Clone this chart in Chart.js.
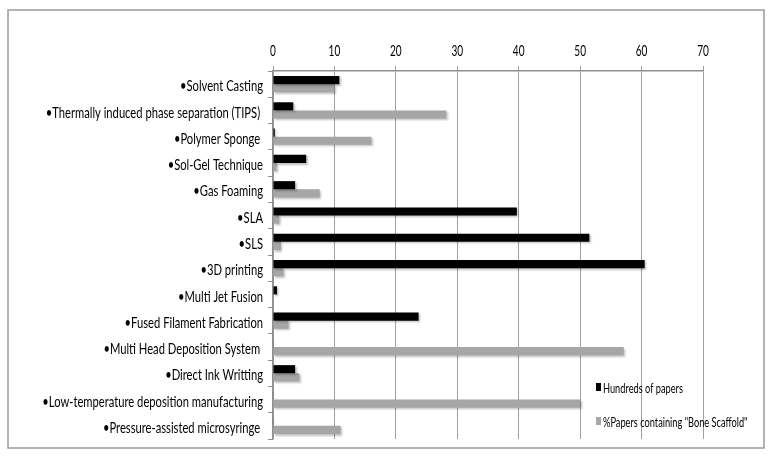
<!DOCTYPE html>
<html>
<head>
<meta charset="utf-8">
<script src="https://cdn.jsdelivr.net/npm/chart.js@4"></script>
<style>
  body { margin: 0; background: #fff; }
  #wrap { width: 778px; height: 458px; position: relative; }
</style>
</head>
<body>
<div id="wrap"><canvas id="myChart" width="778" height="458"></canvas></div>
<script>
let categories = [
    "\u2022Solvent Casting",
    "\u2022Thermally induced phase separation (TIPS) ",
    "\u2022Polymer Sponge ",
    "\u2022Sol-Gel Technique",
    "\u2022Gas Foaming",
    "\u2022SLA",
    "\u2022SLS",
    "\u20223D printing",
    "\u2022Multi Jet Fusion",
    "\u2022Fused Filament Fabrication",
    "\u2022Multi Head Deposition System ",
    "\u2022Direct Ink Writting",
    "\u2022Low-temperature deposition manufacturing",
    "\u2022Pressure-assisted microsyringe "
];
let hundredsOfPapers = [10.8, 3.3, 0.3, 5.4, 3.6, 39.7, 51.5, 60.5, 0.65, 23.7, 0.1, 3.6, 0.1, 0.1];
let pctBoneScaffold = [10.0, 28.2, 16.0, 0.6, 7.6, 1.0, 1.3, 1.7, 0, 2.5, 57.1, 4.3, 50.0, 11.0];
let xTicks = [0, 10, 20, 30, 40, 50, 60, 70];

let fontFamily = "Lato, 'DejaVu Sans Condensed', sans-serif";

// the source figure uses a narrow font, so text is drawn squeezed sideways
function drawNarrowText(ctx, text, x, y, align, size, squeeze) {
    ctx.save();
    ctx.font = size + "px " + fontFamily;
    ctx.textAlign = align;
    ctx.textBaseline = "middle";
    ctx.fillStyle = "#000";
    ctx.translate(x, y);
    ctx.scale(squeeze, 1);
    ctx.fillText(text, 0, 0);
    ctx.restore();
}

// white background + grey frame around the whole figure
let framePlugin = {
    id: "frame",
    beforeDraw(chart) {
        let ctx = chart.ctx;
        ctx.save();
        ctx.fillStyle = "#fff";
        ctx.fillRect(0, 0, chart.width, chart.height);
        ctx.strokeStyle = "#9a9a9a";
        ctx.lineWidth = 1.5;
        ctx.strokeRect(8, 10, 756, 438);
        ctx.restore();
    }
};

// soft shadow under the bars
let shadowPlugin = {
    id: "barShadow",
    beforeDatasetsDraw(chart) {
        let ctx = chart.ctx;
        ctx.save();
        ctx.shadowColor = "rgba(0,0,0,0.25)";
        ctx.shadowOffsetX = 1.5;
        ctx.shadowOffsetY = 1.5;
        ctx.shadowBlur = 2;
    },
    afterDatasetsDraw(chart) {
        chart.ctx.restore();
    }
};

// tick labels for both axes, drawn with the narrow text helper
let labelPlugin = {
    id: "narrowLabels",
    afterDraw(chart) {
        let ctx = chart.ctx;
        let xs = chart.scales.x;
        let ys = chart.scales.y;
        xs.ticks.forEach(function (t) {
            drawNarrowText(ctx, String(t.value), xs.getPixelForValue(t.value), 51, "center", 16, 0.63);
        });
        chart.data.labels.forEach(function (lab, i) {
            drawNarrowText(ctx, lab, ys.left + ys.width - 10, ys.getPixelForTick(i) + 2, "right", 16, 0.7);
        });
    }
};

// legend drawn inside the plot, lower right
let legendPlugin = {
    id: "innerLegend",
    afterDraw(chart) {
        let ctx = chart.ctx;
        let x = 596;
        let ys = [387, 421];
        chart.data.datasets.forEach(function (ds, i) {
            ctx.fillStyle = ds.backgroundColor;
            ctx.fillRect(x, ys[i] - 4, 5, 8);
            drawNarrowText(ctx, ds.label, x + 7, ys[i] + 1, "left", 14, 0.66);
        });
    }
};

let ctx = document.getElementById("myChart");
let myChart = new Chart(ctx, {
    type: "bar",
    data: {
        labels: categories,
        datasets: [{
            label: "Hundreds of papers",
            data: hundredsOfPapers,
            backgroundColor: "#000000",
            barPercentage: 1.0,
            categoryPercentage: 0.62
        }, {
            label: "%Papers containing \"Bone Scaffold\"",
            data: pctBoneScaffold,
            backgroundColor: "#a6a6a6",
            barPercentage: 1.0,
            categoryPercentage: 0.62
        }]
    },
    options: {
        indexAxis: "y",
        responsive: false,
        animation: false,
        layout: {
            padding: { left: 0, right: 75, top: 0, bottom: 19 }
        },
        plugins: {
            legend: { display: false },
            title: { display: false },
            tooltip: { enabled: false }
        },
        scales: {
            x: {
                position: "top",
                min: 0,
                max: 70,
                afterBuildTicks(scale) {
                    scale.ticks = xTicks.map(v => ({ value: v }));
                },
                afterFit(scale) {
                    scale.height = 71;
                },
                grid: {
                    color: "#a0a0a0",
                    lineWidth: 1,
                    tickLength: 5
                },
                border: { color: "#909090", width: 1.5 },
                ticks: { display: false }
            },
            y: {
                afterFit(scale) {
                    scale.width = 273;
                },
                grid: {
                    drawOnChartArea: false,
                    color: "#909090",
                    tickLength: 5,
                    offset: true
                },
                border: { color: "#909090", width: 1.5 },
                ticks: { display: false, autoSkip: false }
            }
        }
    },
    plugins: [framePlugin, shadowPlugin, labelPlugin, legendPlugin]
});
</script>
</body>
</html>
